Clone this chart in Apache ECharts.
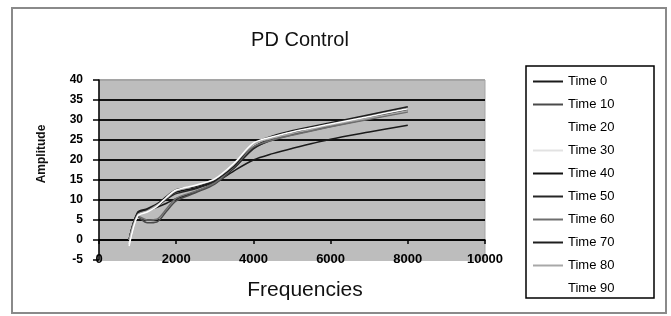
<!DOCTYPE html>
<html>
<head>
<meta charset="utf-8">
<script src="https://cdn.jsdelivr.net/npm/echarts@6/dist/echarts.min.js"></script>
<style>
html,body{margin:0;padding:0;background:#fff;}
#main{width:671px;height:316px;}
</style>
</head>
<body>
<div id="main"></div>
<script>
var freq = [780, 1000, 1250, 1500, 1750, 2000, 2500, 3000, 3500, 4000, 4500, 5000, 6000, 7000, 8000];
var time0  = [0, 6.5, 7.3, 8.2, 9.2, 10.3, 12.0, 14.2, 17.3, 20.0, 21.6, 22.9, 25.2, 27.0, 28.7];
var time10 = [0, 5.8, 4.3, 4.5, 7.2, 9.8, 11.8, 14.0, 18.0, 23.0, 25.0, 26.3, 28.4, 30.3, 32.2];
var time20 = [-1, 6.2, 7.2, 8.6, 10.8, 12.4, 13.5, 15.0, 18.8, 23.8, 25.6, 26.8, 28.8, 30.6, 32.4];
var time30 = [0, 6.4, 7.4, 8.8, 10.6, 12.2, 13.3, 14.9, 18.6, 23.6, 25.4, 26.7, 28.9, 30.8, 32.6];
var time40 = [0, 6.8, 7.6, 8.7, 10.4, 12.0, 13.0, 14.7, 18.2, 23.2, 25.6, 26.9, 29.0, 31.0, 32.9];
var time50 = [0, 6.6, 7.5, 8.5, 10.2, 11.6, 12.8, 14.6, 18.0, 22.8, 25.2, 26.5, 28.6, 30.6, 32.5];
var time60 = [0, 6.0, 5.0, 5.2, 7.8, 10.4, 12.2, 14.3, 18.3, 23.3, 25.0, 26.2, 28.3, 30.2, 32.0];
var time70 = [0, 6.9, 7.8, 9.0, 10.9, 12.6, 13.4, 15.0, 18.5, 24.0, 26.0, 27.3, 29.3, 31.3, 33.3];
var time80 = [0, 6.3, 7.3, 8.7, 10.5, 12.3, 13.6, 15.2, 19.0, 23.9, 25.5, 26.6, 28.7, 30.5, 32.3];
var time90 = [-1.5, 6.0, 7.0, 8.4, 10.7, 12.5, 13.7, 15.3, 19.2, 24.2, 25.8, 27.0, 29.0, 30.9, 32.8];
var seriesNames = ['Time 0','Time 10','Time 20','Time 30','Time 40','Time 50','Time 60','Time 70','Time 80','Time 90'];
var seriesValues = [time0, time10, time20, time30, time40, time50, time60, time70, time80, time90];
var seriesColors = ['#1a1a1a','#4a4a4a','#ffffff','#e2e2e2','#111111','#262626','#6e6e6e','#1e1e1e','#a8a8a8','#ffffff'];

var FONT = '"Liberation Sans", Arial, sans-serif';
var chart = echarts.init(document.getElementById('main'), null, {renderer:'canvas'});

var series = seriesNames.map(function(name, i){
  return {
    name: name,
    type: 'line',
    xAxisIndex: 0,
    smooth: 0.3,
    symbol: 'none',
    showSymbol: false,
    animation: false,
    lineStyle: {width: 1.5, color: seriesColors[i]},
    itemStyle: {color: seriesColors[i]},
    data: freq.map(function(f, j){ return [f, seriesValues[i][j]]; })
  };
});

chart.setOption({
  animation: false,
  backgroundColor: '#ffffff',
  grid: {
    left: 99, top: 80, width: 386, height: 180,
    show: true, backgroundColor: '#bdbdbd', borderColor: '#a5a5a5', borderWidth: 1
  },
  xAxis: [{
    type: 'value', min: 0, max: 10000, interval: 2000, position: 'bottom',
    axisLine: {show: false, onZero: false},
    axisTick: {show: false},
    axisLabel: {margin: -7, color: '#000', fontSize: 13, fontWeight: 'bold', fontFamily: FONT,
      formatter: function(v){ return String(v); }},
    splitLine: {show: false}
  }, {
    type: 'value', min: 0, max: 10000, interval: 2000, position: 'top', offset: -160,
    axisLine: {show: true, onZero: false, lineStyle: {color: '#000', width: 1.5}},
    axisTick: {show: true, inside: true, length: 4, lineStyle: {color: '#000', width: 1.5}},
    axisLabel: {show: false},
    splitLine: {show: false}
  }],
  yAxis: {
    type: 'value', min: -5, max: 40, interval: 5,
    axisLine: {show: true, onZero: false, lineStyle: {color: '#000', width: 1.5}},
    axisTick: {show: true, length: 6, lineStyle: {color: '#000', width: 1.5}},
    axisLabel: {margin: 16, color: '#000', fontSize: 12, fontWeight: 'bold', fontFamily: FONT},
    splitLine: {show: true, lineStyle: {width: 1.8, color: ['#bdbdbd','#111','#111','#111','#111','#111','#111','#111','#111','#a5a5a5']}}
  },
  legend: {
    orient: 'vertical', left: 526, top: 66,
    padding: [9, 40, 5, 6],
    itemWidth: 30, itemHeight: 14, itemGap: 10,
    itemStyle: {opacity: 0},
    textStyle: {fontSize: 13, color: '#000', fontFamily: FONT},
    data: seriesNames
  },
  graphic: [
    {type: 'rect', silent: true, shape: {x: 12, y: 8, width: 654, height: 305},
     style: {fill: 'none', stroke: '#8a8a8a', lineWidth: 2}, z: -10},
    {type: 'rect', silent: true, shape: {x: 526, y: 66, width: 128, height: 232},
     style: {fill: 'none', stroke: '#000', lineWidth: 1.5}},
    {type: 'text', silent: true, x: 300, y: 40,
     style: {text: 'PD Control', font: '20px ' + FONT, fill: '#111', textAlign: 'center', textVerticalAlign: 'middle', verticalAlign: 'middle'}},
    {type: 'text', silent: true, x: 305, y: 290,
     style: {text: 'Frequencies', font: '21px ' + FONT, fill: '#111', textAlign: 'center', textVerticalAlign: 'middle', verticalAlign: 'middle'}},
    {type: 'text', silent: true, x: 42, y: 154, rotation: Math.PI / 2,
     style: {text: 'Amplitude', font: 'bold 12px ' + FONT, fill: '#111', textAlign: 'center', textVerticalAlign: 'middle', verticalAlign: 'middle'}}
  ],
  series: series
});
</script>
</body>
</html>
